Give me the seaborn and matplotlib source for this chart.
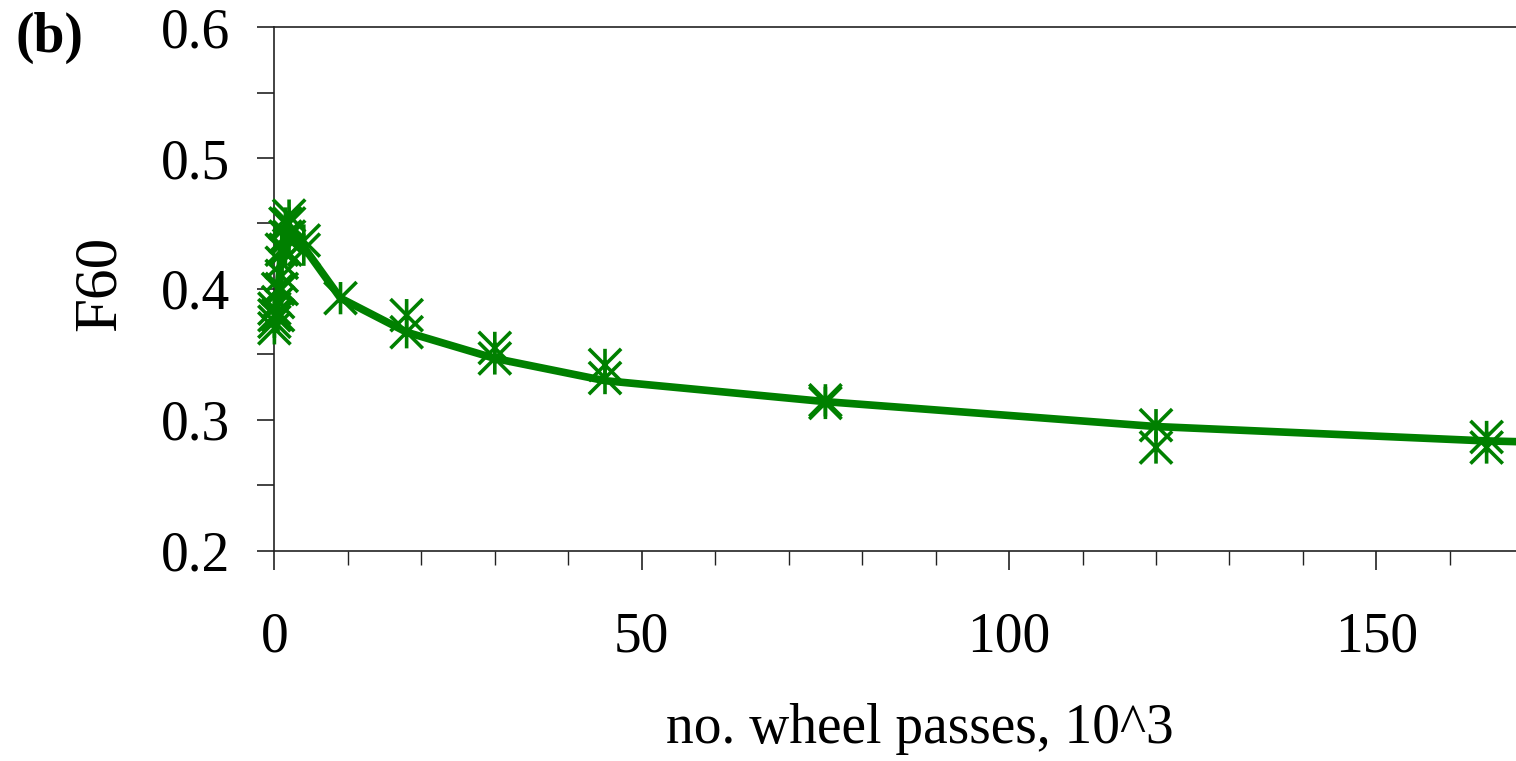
import numpy as np
import pandas as pd
import matplotlib
matplotlib.use("Agg")
import matplotlib.pyplot as plt
from matplotlib.path import Path
from matplotlib.ticker import MultipleLocator
import seaborn as sns

# measured F60 values (thousands of wheel passes)
passes = [0, 0, 0, 0, 0.5, 0.5, 0.5, 1, 1, 1, 1, 1.5, 1.5, 1.5, 2, 2, 2,
          4, 4, 9, 18, 18, 30, 30, 45, 45, 75, 75, 120, 120, 165, 165]
f60 = [0.370, 0.375, 0.380, 0.385, 0.390, 0.400, 0.380, 0.410, 0.420, 0.400,
       0.430, 0.440, 0.430, 0.450, 0.450, 0.456, 0.440, 0.437, 0.430, 0.393,
       0.380, 0.367, 0.355, 0.347, 0.342, 0.332, 0.315, 0.313, 0.296, 0.279,
       0.287, 0.279]

# fitted trend line
fit_x = [0, 0.5, 1, 2, 4, 9, 18, 30, 45, 75, 120, 165, 180]
fit_y = [0.372, 0.400, 0.430, 0.447, 0.432, 0.393, 0.367, 0.347, 0.330,
         0.314, 0.295, 0.284, 0.282]

df = pd.DataFrame({"passes": passes, "F60": f60})
fit = pd.DataFrame({"passes": fit_x, "F60": fit_y})

sns.set_style("ticks")
plt.rcParams["font.family"] = ["Liberation Serif", "DejaVu Serif"]
plt.rcParams["text.color"] = "black"
plt.rcParams["xtick.color"] = "black"
plt.rcParams["ytick.color"] = "black"
plt.rcParams["axes.labelcolor"] = "black"

green = "#008000"
# asterisk: vertical bar plus both diagonals
star = Path([(0, -1), (0, 1), (-1, -1), (1, 1), (-1, 1), (1, -1)],
            [Path.MOVETO, Path.LINETO, Path.MOVETO, Path.LINETO,
             Path.MOVETO, Path.LINETO])

fig = plt.figure(figsize=(15.16, 7.61), dpi=100)
ax = fig.add_axes([0.181, 0.276, 0.819, 0.6885])

sns.lineplot(data=fit, x="passes", y="F60", color=green, linewidth=5.5,
             ax=ax, clip_on=True)
sns.scatterplot(data=df, x="passes", y="F60", marker=star, s=540,
                facecolor="none", edgecolor=green, linewidth=2.6, ax=ax,
                clip_on=False, zorder=3)

ax.set_xlim(0, 169)
ax.set_ylim(0.2, 0.6)
ax.xaxis.set_major_locator(MultipleLocator(50))
ax.xaxis.set_minor_locator(MultipleLocator(10))
ax.yaxis.set_major_locator(MultipleLocator(0.1))
ax.yaxis.set_minor_locator(MultipleLocator(0.05))
ax.set_yticklabels([f"{v:.1f}" for v in ax.get_yticks()])

ax.tick_params(axis="x", which="major", length=13.5, width=1.2, pad=30,
               labelsize=40, direction="out", color="#222222")
ax.tick_params(axis="x", which="minor", length=10, width=1.0,
               direction="out", color="#222222")
ax.tick_params(axis="y", which="both", length=12, width=1.2, pad=20,
               labelsize=40, direction="out", color="#222222")

for side in ["left", "bottom", "top"]:
    ax.spines[side].set_color("#222222")
    ax.spines[side].set_linewidth(1.2)
ax.spines["right"].set_visible(False)

ax.set_xlabel("no. wheel passes, 10^3", fontsize=40)
ax.set_ylabel("F60", fontsize=44)
ax.xaxis.set_label_coords(0.52, -0.29)
ax.yaxis.set_label_coords(-0.118, 0.51)

fig.text(0.01, 0.985, "(b)", fontsize=40, fontweight="bold", va="top",
         ha="left")

fig.savefig("out.png", dpi=100)
